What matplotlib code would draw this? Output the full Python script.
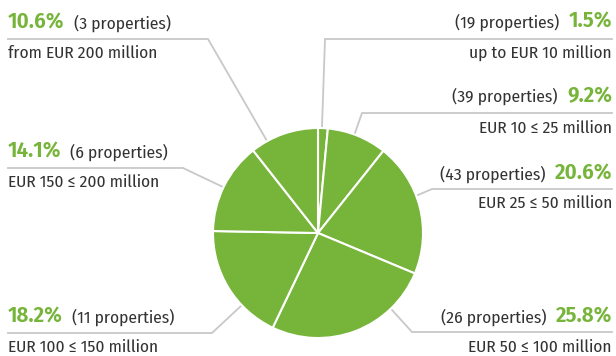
import matplotlib
matplotlib.use("Agg")
import matplotlib.pyplot as plt

# Share of properties by value band, clockwise from 12 o'clock
shares = [1.5, 9.2, 20.6, 25.8, 18.2, 14.1, 10.6]
counts = [19, 39, 43, 26, 11, 6, 3]
bands = [
    "up to EUR 10 million",
    "EUR 10 \u2264 25 million",
    "EUR 25 \u2264 50 million",
    "EUR 50 \u2264 100 million",
    "EUR 100 \u2264 150 million",
    "EUR 150 \u2264 200 million",
    "from EUR 200 million",
]

GREEN = "#76b43a"
TEXT = "#333333"
LINE = "#c8c8c8"
FONT = ["Fira Sans Condensed", "DejaVu Sans"]
W, H = 616, 356

fig = plt.figure(figsize=(W / 100, H / 100), dpi=100)
ax = fig.add_axes([0, 0, 1, 1])

ax.pie(shares, center=(318, H - 233), radius=105, startangle=90,
       counterclock=False, colors=[GREEN] * len(shares),
       wedgeprops=dict(edgecolor="white", linewidth=1.5), frame=True)
ax.set_xlim(0, W)
ax.set_ylim(0, H)
ax.set_aspect("equal")
ax.axis("off")

# label layout: side, baseline of first line, baseline of second line,
# leader polyline (pixel coords, y from top)
layout = [
    ("right", 28, 58, [(612, 39), (325, 39), (322, 127)]),
    ("right", 102, 133, [(612, 113), (362, 113), (355, 133)]),
    ("right", 180, 208, [(612, 189), (432, 189), (418, 195)]),
    ("right", 323, 352, [(612, 332), (412, 332), (392, 310)]),
    ("left", 323, 352, [(8, 333), (212, 333), (242, 305)]),
    ("left", 158, 187, [(8, 168), (183, 168), (223, 187)]),
    ("left", 29, 58, [(8, 39), (208, 39), (267, 141)]),
]

renderer = fig.canvas.get_renderer()
for share, n, band, (side, y1, y2, pts) in zip(shares, counts, bands, layout):
    xs = [p[0] for p in pts]
    ys = [H - p[1] for p in pts]
    ax.plot(xs, ys, color=LINE, lw=1.3, solid_joinstyle="miter", zorder=0)

    pct = f"{share:.1f}%"
    props = f"({n} properties)"
    if side == "right":
        t = ax.text(612, H - y1, pct, ha="right", va="baseline", color=GREEN,
                    fontsize=16.3, fontweight="semibold", family=FONT)
        bb = t.get_window_extent(renderer)
        ax.text(bb.x0 - 9, H - y1, props, ha="right", va="baseline",
                color=TEXT, fontsize=12.5, family=FONT)
        ax.text(612, H - y2, band, ha="right", va="baseline", color=TEXT,
                fontsize=12.5, family=FONT)
    else:
        t = ax.text(8, H - y1, pct, ha="left", va="baseline", color=GREEN,
                    fontsize=16.3, fontweight="semibold", family=FONT)
        bb = t.get_window_extent(renderer)
        ax.text(bb.x1 + 9, H - y1, props, ha="left", va="baseline",
                color=TEXT, fontsize=12.5, family=FONT)
        ax.text(8, H - y2, band, ha="left", va="baseline", color=TEXT,
                fontsize=12.5, family=FONT)

fig.savefig("out.png", dpi=100)
